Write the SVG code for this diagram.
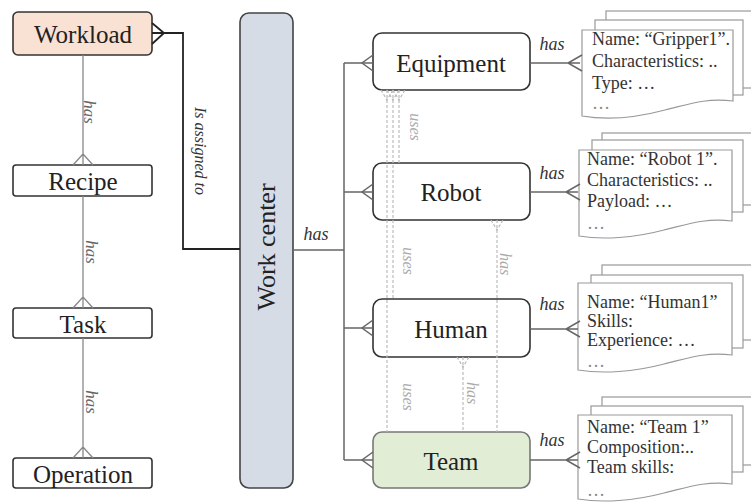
<svg xmlns="http://www.w3.org/2000/svg" width="751" height="502" viewBox="0 0 751 502">
<style>
.box{stroke:#333;stroke-width:1.6;fill:#fff}
.lbl{font-family:'Liberation Serif','Times New Roman',Tinos,serif;font-size:25px;fill:#222;text-anchor:middle}
.gl{stroke:#888;stroke-width:1.3;fill:none}
.tl{stroke:#666;stroke-width:1.5;fill:none}
.bl{stroke:#222;stroke-width:1.8;fill:none}
.dl{stroke:#bbb;stroke-width:1.2;fill:none;stroke-dasharray:3 2}
.it{font-family:'Liberation Serif','Times New Roman',Tinos,serif;font-style:italic;text-anchor:middle}
.doc{stroke:#999;stroke-width:1.2;fill:#fff}
.dt{font-family:'Liberation Serif','Times New Roman',Tinos,serif;font-size:18px;fill:#333}
</style>
<rect width="751" height="502" fill="#fff"/>

<g id="workload"><rect class="box" x="13" y="12" width="139" height="43" rx="5" style="fill:#f9e1d3"/><text class="lbl" x="83" y="43">Workload</text></g>
<g id="recipe"><rect class="box" x="13" y="165" width="139" height="31" rx="3"/><text class="lbl" x="83" y="190">Recipe</text></g>
<g id="task"><rect class="box" x="13" y="308" width="139" height="30" rx="3"/><text class="lbl" x="83" y="333">Task</text></g>
<g id="operation"><rect class="box" x="13" y="458" width="139" height="30" rx="3"/><text class="lbl" x="83" y="483">Operation</text></g>

<g id="workcenter"><rect class="box" x="240" y="13" width="53" height="475" rx="9" style="fill:#d6dce6;stroke:#444"/><text class="lbl" style="font-size:26px" transform="translate(266,247) rotate(-90)" y="9">Work center</text></g>

<g id="equipment"><rect class="box" x="373" y="33" width="157" height="57" rx="9"/><text class="lbl" x="451" y="72">Equipment</text></g>
<g id="robot"><rect class="box" x="373" y="163" width="157" height="57" rx="9"/><text class="lbl" x="451" y="201">Robot</text></g>
<g id="human"><rect class="box" x="373" y="299" width="157" height="58" rx="9"/><text class="lbl" x="451" y="338">Human</text></g>
<g id="team"><rect class="box" x="373" y="432" width="157" height="56" rx="9" style="fill:#e2edd6;stroke:#777"/><text class="lbl" x="451" y="470">Team</text></g>

<g id="doc-equipment">
  <rect class="doc" x="606" y="11" width="160" height="77"/>
  <rect class="doc" x="595" y="20" width="148" height="75"/>
  <path class="doc" d="M582,30H733V101C705,98 690,104 665,110C635,118 605,120 582,116Z"/>
  <text class="dt" x="592" y="45">Name: “Gripper1”.</text>
  <text class="dt" x="592" y="67">Characteristics: ..</text>
  <text class="dt" x="592" y="89">Type: …</text>
  <text class="dt" x="592" y="109" style="fill:#888">…</text>
</g>
<g id="doc-robot">
  <rect class="doc" x="602" y="133" width="160" height="72"/>
  <rect class="doc" x="592" y="140" width="151" height="72"/>
  <path class="doc" d="M579,150H732V221C704,218 689,224 664,230C634,238 602,240 579,236Z"/>
  <text class="dt" x="587" y="165">Name: “Robot 1”.</text>
  <text class="dt" x="587" y="186">Characteristics: ..</text>
  <text class="dt" x="587" y="207">Payload: …</text>
  <text class="dt" x="587" y="229" style="fill:#888">…</text>
</g>
<g id="doc-human">
  <rect class="doc" x="602" y="265" width="160" height="75"/>
  <rect class="doc" x="591" y="275" width="152" height="73"/>
  <path class="doc" d="M578,283H732V355C704,352 689,358 664,364C634,372 602,374 578,370Z"/>
  <text class="dt" x="587" y="308">Name: “Human1”</text>
  <text class="dt" x="587" y="327">Skills:</text>
  <text class="dt" x="587" y="346">Experience: …</text>
  <text class="dt" x="587" y="367" style="fill:#888">…</text>
</g>
<g id="doc-team">
  <rect class="doc" x="602" y="397" width="160" height="68"/>
  <rect class="doc" x="591" y="406" width="152" height="66"/>
  <path class="doc" d="M578,415H732V484C704,481 689,487 664,493C634,501 602,503 578,499Z"/>
  <text class="dt" x="587" y="433">Name: “Team 1”</text>
  <text class="dt" x="587" y="453">Composition:..</text>
  <text class="dt" x="587" y="473">Team skills:</text>
  <text class="dt" x="587" y="496" style="fill:#888">…</text>
</g>

<g id="connectors">
  <path class="gl" d="M83,55V165M73,165L83,154L93,165M83,196V308M73,308L83,297L93,308M83,338V458M73,458L83,447L93,458"/>
  <text class="it" font-size="17" fill="#666" transform="translate(89,112) rotate(90)" y="5">has</text>
  <text class="it" font-size="17" fill="#666" transform="translate(91,252) rotate(90)" y="5">has</text>
  <text class="it" font-size="17" fill="#666" transform="translate(91,402) rotate(90)" y="5">has</text>
  <path class="bl" d="M152,23L164,33L152,44M152,33H183V249H240"/>
  <text class="it" font-size="16" fill="#333" transform="translate(200,151) rotate(90)" y="5">Is assigned to</text>
  <path class="tl" d="M293,250H344M344,63V460M344,63H373M344,192H373M344,328H373M344,460H373"/>
  <path class="tl" d="M373,55L362,63L373,71M373,184L362,192L373,200M373,320L362,328L373,336M373,452L362,460L373,468"/>
  <text class="it" font-size="18" fill="#333" x="316" y="240">has</text>
  <path class="tl" d="M530,63H580M582,55L568,63L582,71M530,192H578M580,184L566,192L580,200M530,329H578M580,321L566,329L580,337M530,460H578M580,452L566,460L580,468"/>
  <text class="it" font-size="18" fill="#333" x="552" y="50">has</text>
  <text class="it" font-size="18" fill="#333" x="552" y="179">has</text>
  <text class="it" font-size="18" fill="#333" x="552" y="310">has</text>
  <text class="it" font-size="18" fill="#333" x="552" y="446">has</text>
  <path class="dl" d="M399,90V163M393,90V298M387,90V432M497,220V432M463,357V432"/>
  <path class="dl" d="M393,90L399,100L405,90M387,90L393,100L399,90M381,90L387,100L393,90M491,220L497,230L503,220M457,357L463,367L469,357"/>
  <text class="it" font-size="16" fill="#aaa" transform="translate(415,127) rotate(90)" y="5">uses</text>
  <text class="it" font-size="16" fill="#aaa" transform="translate(408,261) rotate(90)" y="5">uses</text>
  <text class="it" font-size="16" fill="#aaa" transform="translate(408,397) rotate(90)" y="5">uses</text>
  <text class="it" font-size="16" fill="#aaa" transform="translate(505,264) rotate(90)" y="5">has</text>
  <text class="it" font-size="16" fill="#aaa" transform="translate(472,393) rotate(90)" y="5">has</text>
</g>
</svg>
